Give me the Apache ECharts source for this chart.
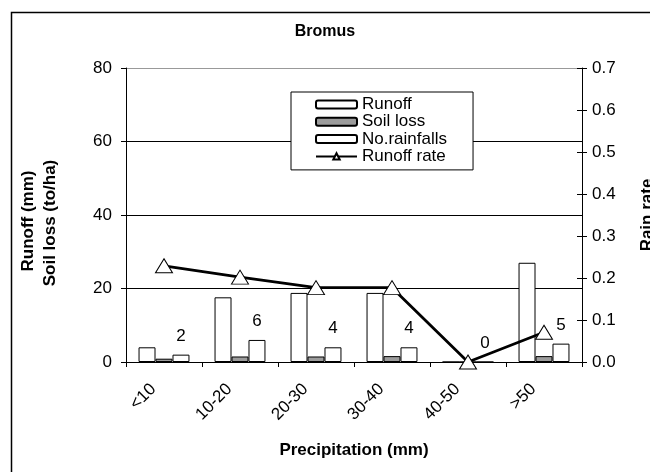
<!DOCTYPE html>
<html>
<head>
<meta charset="utf-8">
<script src="https://cdn.jsdelivr.net/npm/echarts@6/dist/echarts.min.js"></script>
<style>html,body{margin:0;padding:0;background:#fff}#c{width:650px;height:472px}</style>
</head>
<body>
<div id="c"></div>
<script>
var categories = ['<10', '10-20', '20-30', '30-40', '40-50', '>50'];
var runoff = [4.0, 17.6, 18.8, 18.8, 0, 27.0];
var soilLoss = [0.9, 1.5, 1.5, 1.6, 0, 1.6];
var noRainfalls = [2, 6, 4, 4, 0, 5];
var runoffRate = [0.229, 0.202, 0.177, 0.177, 0, 0.071];
var leftTicks = {min: 0, max: 80, interval: 20};
var rightTicks = {min: 0, max: 0.7, interval: 0.1};

var FONT = 'Liberation Sans, Arial, sans-serif';
var FS = 17;
var chart = echarts.init(document.getElementById('c'), null, {renderer: 'canvas'});
chart.setOption({
  backgroundColor: '#fff',
  animation: false,
  textStyle: {fontFamily: FONT, color: '#000'},
  title: {
    text: 'Bromus', left: 'center', top: 19,
    textStyle: {fontFamily: FONT, fontSize: 16, fontWeight: 'bold', color: '#000'}
  },
  grid: {left: 126, right: 68, top: 68, bottom: 110},
  legend: {
    orient: 'vertical', left: 291, top: 92,
    padding: [4, 26, 5, 24],
    backgroundColor: '#fff', borderColor: '#000', borderWidth: 1,
    itemWidth: 41, itemHeight: 8, itemGap: 0.3,
    textStyle: {fontFamily: FONT, fontSize: FS, color: '#000', lineHeight: 17},
    data: ['Runoff', 'Soil loss', 'No.rainfalls', 'Runoff rate']
  },
  xAxis: {
    type: 'category', data: categories,
    name: 'Precipitation (mm)', nameLocation: 'middle', nameGap: 80,
    nameTextStyle: {fontFamily: FONT, fontSize: FS, fontWeight: 'bold', color: '#000'},
    axisLine: {lineStyle: {color: '#000', width: 1}},
    axisTick: {show: true, length: 5, lineStyle: {color: '#000'}},
    axisLabel: {rotate: 45, fontSize: FS, color: '#000', fontFamily: FONT, margin: 14,
      padding: [0, 15, 0, 0]}
  },
  yAxis: [
    {
      type: 'value', min: leftTicks.min, max: leftTicks.max, interval: leftTicks.interval,
      position: 'left',
      axisLine: {show: true, lineStyle: {color: '#000'}},
      axisTick: {show: true, length: 5, lineStyle: {color: '#000'}},
      axisLabel: {fontSize: FS, color: '#000', fontFamily: FONT, margin: 14},
      splitLine: {show: true, lineStyle: {color: ['#000', '#000', '#000', '#000', '#999'], width: 1}}
    },
    {
      type: 'value', min: rightTicks.min, max: rightTicks.max, interval: rightTicks.interval,
      position: 'right',
      axisLine: {show: true, lineStyle: {color: '#000'}},
      axisTick: {show: true, length: 5, lineStyle: {color: '#000'}},
      axisLabel: {fontSize: FS, color: '#000', fontFamily: FONT, margin: 10,
        formatter: function (v) { return v.toFixed(1); }},
      splitLine: {show: false}
    },
    {
      type: 'value', min: rightTicks.min, max: rightTicks.max, interval: rightTicks.interval,
      position: 'right',
      axisLine: {show: false},
      axisTick: {show: true, inside: true, length: 5, lineStyle: {color: '#000'}},
      axisLabel: {show: false},
      splitLine: {show: false}
    }
  ],
  series: [
    {
      name: 'Runoff', type: 'bar', data: runoff, barGap: '0%', barCategoryGap: '33%',
      itemStyle: {color: '#fff', borderColor: '#000', borderWidth: 1}
    },
    {
      name: 'Soil loss', type: 'bar', data: soilLoss,
      itemStyle: {color: '#9c9c9c', borderColor: '#000', borderWidth: 1}
    },
    {
      name: 'No.rainfalls', type: 'bar', data: noRainfalls,
      itemStyle: {color: '#fff', borderColor: '#000', borderWidth: 1},
      label: {show: true, position: 'top', distance: 10, fontSize: FS, color: '#000', fontFamily: FONT}
    },
    {
      name: 'Runoff rate', type: 'line', yAxisIndex: 1, data: runoffRate,
      symbol: 'triangle', symbolSize: [17, 14], showAllSymbol: true,
      lineStyle: {color: '#000', width: 2.8},
      itemStyle: {color: '#fff', borderColor: '#000', borderWidth: 1},
      z: 5
    }
  ],
  graphic: [
    {type: 'rect', left: 9, top: 10, shape: {x: 0, y: 0, width: 700, height: 500},
      style: {fill: null, stroke: '#000', lineWidth: 1.5}, silent: true, z: 100},
    {type: 'text', x: 28, y: 221, rotation: Math.PI / 2,
      style: {text: 'Runoff (mm)', font: 'bold ' + FS + 'px ' + FONT, fill: '#000', textAlign: 'center', textVerticalAlign: 'middle'}},
    {type: 'text', x: 50, y: 223, rotation: Math.PI / 2,
      style: {text: 'Soil loss (to/ha)', font: 'bold ' + FS + 'px ' + FONT, fill: '#000', textAlign: 'center', textVerticalAlign: 'middle'}},
    {type: 'text', x: 647, y: 215, rotation: Math.PI / 2,
      style: {text: 'Rain rate', font: 'bold ' + FS + 'px ' + FONT, fill: '#000', textAlign: 'center', textVerticalAlign: 'middle'}}
  ]
});
</script>
</body>
</html>
